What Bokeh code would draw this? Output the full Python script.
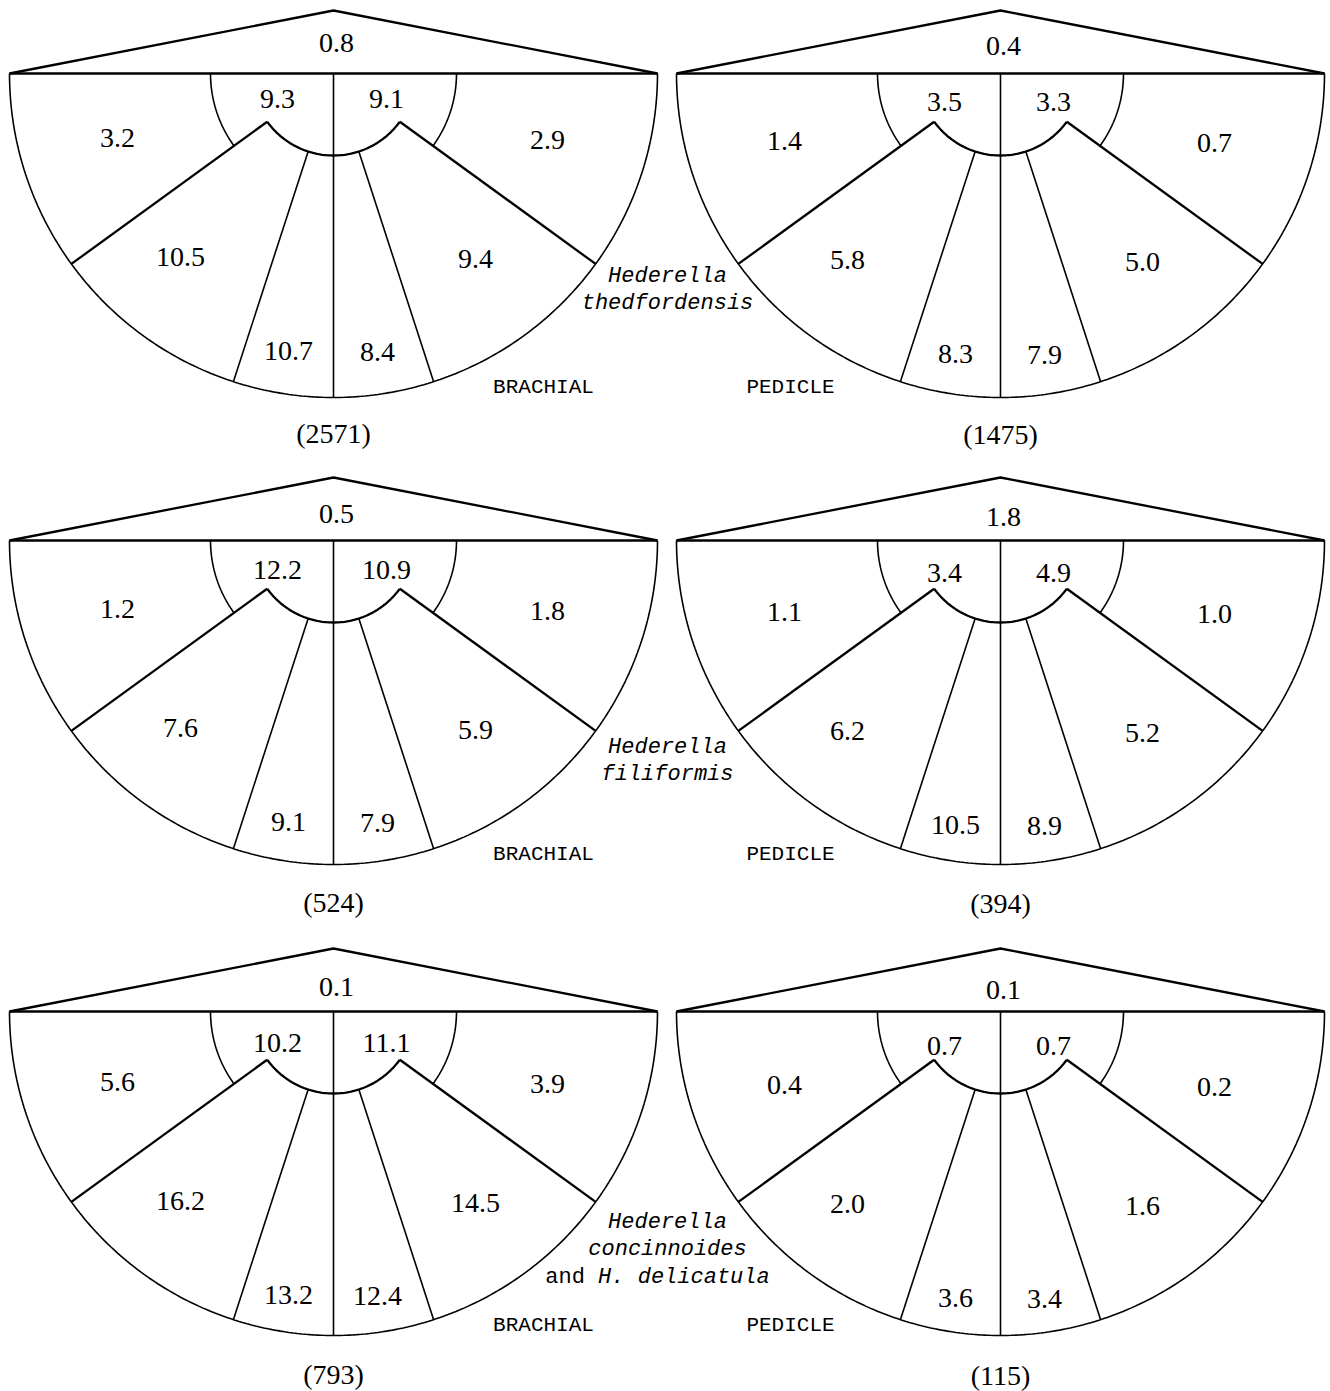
import numpy as np
from bokeh.plotting import figure
from bokeh.models import Range1d
from bokeh.core.properties import value
from bokeh.embed import file_html
from bokeh.resources import INLINE

# ---------------- data (panels in reading order: TL, TR, ML, MR, BL, BR) ----------------
valve = ["BRACHIAL", "PEDICLE", "BRACHIAL", "PEDICLE", "BRACHIAL", "PEDICLE"]
counts = [2571, 1475, 524, 394, 793, 115]
interarea = [0.8, 0.4, 0.5, 1.8, 0.1, 0.1]
inner_left = [9.3, 3.5, 12.2, 3.4, 10.2, 0.7]
inner_right = [9.1, 3.3, 10.9, 4.9, 11.1, 0.7]
outer_left = [3.2, 1.4, 1.2, 1.1, 5.6, 0.4]
outer_right = [2.9, 0.7, 1.8, 1.0, 3.9, 0.2]
mid_left = [10.5, 5.8, 7.6, 6.2, 16.2, 2.0]
mid_right = [9.4, 5.0, 5.9, 5.2, 14.5, 1.6]
center_left = [10.7, 8.3, 9.1, 10.5, 13.2, 3.6]
center_right = [8.4, 7.9, 7.9, 8.9, 12.4, 3.4]

species_genus = ["Hederella", "Hederella", "Hederella"]
species_epithet = ["thedfordensis", "filiformis", "concinnoides"]
species_extra = ["", "", "H. delicatula"]

# ---------------- layout ----------------
W, H = 1330, 1391
col_x = [333, 1000]
row_y = [73, 540, 1011]
panel_dy = [-6, -3, -2, 1, 0, 3]
R_OUT, R_MID, R_IN, H_TRI = 324, 123, 82, 63
A1, A2 = np.radians(36), np.radians(72)

offsets = {
    "interarea": (3, -25),
    "inner_left": (-56, 31),
    "inner_right": (53, 31),
    "outer_left": (-216, 70),
    "outer_right": (214, 72),
    "mid_left": (-153, 189),
    "mid_right": (142, 191),
    "center_left": (-45, 283),
    "center_right": (44, 284),
}

p = figure(width=W, height=H, output_backend="svg", toolbar_location=None,
           x_range=Range1d(0, W), y_range=Range1d(H, 0), min_border=0)
p.axis.visible = False
p.grid.visible = False
p.outline_line_color = None
p.background_fill_color = "white"
p.border_fill_color = "white"

def arc(cx, cy, r, t0, t1, n=120):
    t = np.linspace(t0, t1, n)
    return list(cx + r * np.cos(t)), list(cy + r * np.sin(t))

thick_x, thick_y = [], []
thin_x, thin_y = [], []

for i in range(6):
    cx = col_x[i % 2]
    cy = row_y[i // 2]
    thick_x.append([cx - R_OUT, cx, cx + R_OUT]); thick_y.append([cy, cy - H_TRI, cy])
    thick_x.append([cx - R_OUT, cx + R_OUT]); thick_y.append([cy, cy])
    xs, ys = arc(cx, cy, R_OUT, 0, np.pi, 240); thin_x.append(xs); thin_y.append(ys)
    thin_x.append([cx, cx]); thin_y.append([cy, cy + R_OUT])
    xs, ys = arc(cx, cy, R_MID, np.pi, np.pi - A1, 40); thin_x.append(xs); thin_y.append(ys)
    xs, ys = arc(cx, cy, R_MID, 0, A1, 40); thin_x.append(xs); thin_y.append(ys)
    xs, ys = arc(cx, cy, R_IN, A1, np.pi - A1, 80); thick_x.append(xs); thick_y.append(ys)
    for a in (A1, np.pi - A1):
        thick_x.append([cx + R_IN * np.cos(a), cx + R_OUT * np.cos(a)])
        thick_y.append([cy + R_IN * np.sin(a), cy + R_OUT * np.sin(a)])
    for a in (A2, np.pi - A2):
        thin_x.append([cx + R_IN * np.cos(a), cx + R_OUT * np.cos(a)])
        thin_y.append([cy + R_IN * np.sin(a), cy + R_OUT * np.sin(a)])

p.multi_line(thin_x, thin_y, line_color="black", line_width=1.6)
p.multi_line(thick_x, thick_y, line_color="black", line_width=2.3)

series = {
    "interarea": interarea, "inner_left": inner_left, "inner_right": inner_right,
    "outer_left": outer_left, "outer_right": outer_right, "mid_left": mid_left,
    "mid_right": mid_right, "center_left": center_left, "center_right": center_right,
}
nx, ny, nt = [], [], []
for key, vals in series.items():
    dx, dy = offsets[key]
    for i, v in enumerate(vals):
        nx.append(col_x[i % 2] + dx)
        ny.append(row_y[i // 2] + dy + panel_dy[i])
        nt.append(f"{v:.1f}")
p.text(x=nx, y=ny, text=nt, text_font=value("Liberation Serif"), text_font_size="28px",
       text_align="center", text_baseline="middle", text_color="black")

cx_, cy_, ct_ = [], [], []
for i, c in enumerate(counts):
    cx_.append(col_x[i % 2]); cy_.append(row_y[i // 2] + 363 + panel_dy[i] // 2); ct_.append(f"({c})")
p.text(x=cx_, y=cy_, text=ct_, text_font=value("Liberation Serif"), text_font_size="28px",
       text_align="center", text_baseline="middle", text_color="black")

vx, vy = [], []
for i, v in enumerate(valve):
    sign = 1 if v == "BRACHIAL" else -1
    vx.append(col_x[i % 2] + sign * 210); vy.append(row_y[i // 2] + 314)
p.text(x=vx, y=vy, text=valve, text_font=value("Liberation Mono"), text_font_size="21px",
       text_align="center", text_baseline="middle", text_color="black")

SX = 667
gy = [203, 207, 211]
ix, iy, it = [], [], []
for r in range(3):
    cy = row_y[r]
    ix.append(SX); iy.append(cy + gy[r]); it.append(species_genus[r])
    ix.append(SX); iy.append(cy + gy[r] + 27); it.append(species_epithet[r])
p.text(x=ix, y=iy, text=it, text_font=value("Liberation Mono"), text_font_size="22px",
       text_font_style="italic", text_align="center", text_baseline="middle", text_color="black")
cw = 13.2
extra = species_extra[2]
full_len = len("and " + extra)
x0 = SX - 10 - full_len * cw / 2
ey = row_y[2] + gy[2] + 55
p.text(x=[x0], y=[ey], text=["and"], text_font=value("Liberation Mono"), text_font_size="22px",
       text_align="left", text_baseline="middle", text_color="black")
p.text(x=[x0 + 4 * cw], y=[ey], text=[extra], text_font=value("Liberation Mono"), text_font_size="22px",
       text_font_style="italic", text_align="left", text_baseline="middle", text_color="black")

open("out.html", "w").write(file_html(p, INLINE))
